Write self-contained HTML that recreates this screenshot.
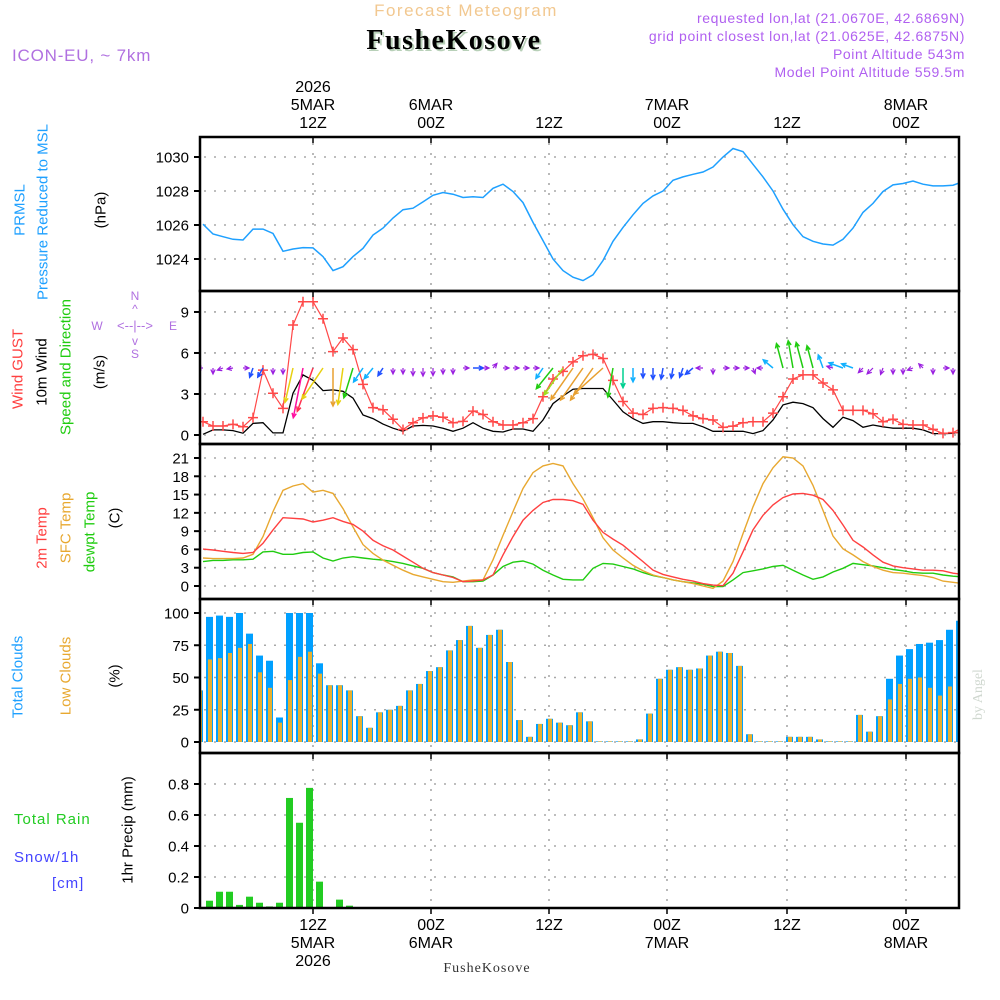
<!DOCTYPE html>
<html><head><meta charset="utf-8">
<style>
html,body{margin:0;padding:0;background:#fff;}
svg{display:block;font-family:"Liberation Sans",sans-serif;}
</style></head>
<body>
<svg id="chart" width="1000" height="1000" viewBox="0 0 1000 1000" xmlns="http://www.w3.org/2000/svg">
<rect x="0" y="0" width="1000" height="1000" fill="#fff"/>
<text x="466" y="16" font-size="17" fill="#f2c890" text-anchor="middle" letter-spacing="1.5">Forecast Meteogram</text>
<text x="456" y="51" font-size="28" font-weight="bold" font-family="Liberation Serif, serif" fill="#b8d0b8" text-anchor="middle" letter-spacing="1.5">FusheKosove</text>
<text x="454" y="49" font-size="28" font-weight="bold" font-family="Liberation Serif, serif" fill="#000" text-anchor="middle" letter-spacing="1.5">FusheKosove</text>
<g font-size="14" fill="#b060f0" text-anchor="end" letter-spacing="0.6">
<text x="965" y="23">requested lon,lat (21.0670E, 42.6869N)</text>
<text x="965" y="41">grid point closest lon,lat (21.0625E, 42.6875N)</text>
<text x="965" y="59">Point Altitude 543m</text>
<text x="965" y="77">Model Point Altitude 559.5m</text>
</g>
<text x="12" y="61" font-size="17" fill="#b070e0" letter-spacing="0.8">ICON-EU, ~ 7km</text>
<text transform="translate(982,720) rotate(-90)" font-size="14" fill="#d0d8d0" font-family="Liberation Serif, serif">by Angel</text>
<g id="grids"></g>
<g id="marks"></g>
<g id="frames"></g>
<g id="labels"></g>
</svg>
<script>
// ---- data (hourly from 00Z 5MAR) ----
const pressure = [1026.05,1025.47,1025.31,1025.16,1025.12,1025.76,1025.76,1025.5,1024.45,1024.59,1024.67,1024.65,1024.14,1023.32,1023.55,1024.14,1024.63,1025.41,1025.82,1026.41,1026.9,1026.99,1027.36,1027.75,1027.91,1027.81,1027.62,1027.66,1027.62,1028.16,1028.4,1027.97,1027.32,1026.15,1025.08,1024.0,1023.32,1022.93,1022.73,1023.07,1023.91,1025.04,1025.86,1026.6,1027.27,1027.71,1028.0,1028.63,1028.83,1028.98,1029.12,1029.41,1030.0,1030.5,1030.31,1029.57,1028.83,1028.0,1026.93,1026.02,1025.31,1025.04,1024.88,1024.82,1025.16,1025.82,1026.74,1027.27,1027.97,1028.36,1028.44,1028.59,1028.4,1028.3,1028.3,1028.34,1028.55];
const gust = [0.97,0.66,0.66,0.78,0.6,1.27,4.75,3.05,1.95,8.05,9.75,9.75,8.5,6.1,7.1,6.25,3.7,2.0,1.85,1.15,0.4,0.9,1.25,1.4,1.3,0.9,1.0,1.75,1.5,0.97,0.73,0.73,0.9,1.2,2.8,4.1,4.65,5.35,5.8,5.9,5.6,4.0,2.45,1.6,1.5,1.95,2.0,1.95,1.8,1.4,1.2,1.1,0.56,0.65,0.9,0.97,0.97,1.6,2.8,4.1,4.4,4.4,3.8,3.3,1.8,1.8,1.8,1.55,0.97,1.15,0.78,0.73,0.73,0.41,0.12,0.17,0.56];
const windSpeed = [0.05,0.37,0.37,0.32,0.13,0.85,0.9,0.15,0.15,3.05,4.4,4.0,3.25,3.3,3.2,2.7,1.46,1.2,0.8,0.5,0.27,0.66,0.7,0.66,0.5,0.27,0.5,0.9,0.5,0.27,0.22,0.44,0.44,0.27,1.1,2.3,2.85,3.35,3.4,3.4,3.4,2.56,1.7,1.2,0.85,0.97,0.97,0.9,0.85,0.85,0.6,0.27,0.27,0.27,0.27,0.1,0.32,1.1,2.2,2.4,2.3,2.0,1.2,0.56,1.3,1.05,0.56,0.73,0.6,0.5,0.5,0.5,0.37,0.1,0.1,0.12,0.27];
const windDir = [270,180,250,260,90,200,210,180,180,193,191,200,214,180,188,197,214,219,213,180,180,180,180,180,180,180,90,90,90,40,90,90,90,90,214,219,215,215,215,215,228,190,180,180,180,180,190,190,200,230,270,180,90,90,90,160,270,310,345,350,345,345,340,285,290,290,225,225,200,180,180,250,315,180,90,180,180];
const temp2m = [6.06,5.9,5.7,5.5,5.35,5.5,7.0,9.2,11.2,11.1,11.0,10.5,10.8,11.2,10.6,10.1,9.0,7.5,6.6,5.9,4.9,3.9,2.9,2.2,1.8,1.4,0.7,0.8,1.0,1.8,5.1,8.1,10.8,12.4,13.7,14.2,14.2,14.0,13.4,10.8,8.8,7.7,6.7,5.35,4.0,2.6,1.9,1.5,1.1,0.8,0.4,0.15,0.05,2.1,5.6,9.2,11.6,13.3,14.5,15.1,15.2,14.9,14.2,12.4,10.0,7.5,6.4,5.1,3.9,3.3,3.0,2.8,2.6,2.6,2.5,2.1,1.9];
const tempSfc = [4.6,4.5,4.5,4.5,4.6,5.2,8.1,12.2,15.7,16.4,16.8,15.4,15.7,15.2,12.7,9.7,6.8,5.35,4.25,3.4,2.6,1.9,1.5,1.1,0.7,0.6,0.8,1.0,1.0,4.3,8.3,12.2,16.0,18.6,19.7,20.1,19.7,16.8,14.3,11.2,7.9,5.9,4.6,3.4,2.5,1.8,1.4,1.0,0.7,0.4,0.0,-0.4,0.8,4.0,8.6,13.0,16.8,19.4,21.2,21.0,19.7,16.5,12.4,8.2,6.1,5.1,4.0,3.2,2.6,2.2,2.1,1.9,1.7,1.4,0.8,0.6,0.4];
const tempDew = [4.0,4.2,4.2,4.3,4.3,4.4,5.6,5.7,5.2,5.2,5.5,5.6,4.6,4.1,4.6,4.8,4.6,4.4,4.25,4.0,3.7,3.3,2.9,2.2,1.8,1.5,0.7,0.7,0.8,1.8,3.2,3.9,4.1,3.6,2.6,1.8,1.1,1.0,1.0,2.9,3.7,3.6,3.2,2.8,2.2,1.7,1.4,1.0,0.7,0.5,0.3,-0.1,-0.1,1.0,2.2,2.5,2.8,3.2,3.4,2.6,1.8,1.1,1.5,2.3,2.9,3.7,3.5,3.3,3.0,2.7,2.5,2.2,2.1,2.1,1.8,1.6,1.5];
const cloudTotal = [40,97,98,97,100,84,67,63,19,100,100,100,61,44,44,40,20,11,23,25,28,40,45,55,58,71,79,90,73,83,87,62,17,4,14,18,15,13,23,16,0.5,0.5,0.5,0.5,2,22,49,56,58,56,57,67,70,69,59,6,0.5,0.5,0.5,4,4,4,2,0.5,0.5,0.5,21,8,20,49,67,72,76,77,79,87,94];
const cloudLow = [40,64,65,69,73,76,54,42,15,48,66,70,53,44,44,40,20,11,23,25,28,40,45,55,58,71,79,90,73,83,87,62,17,4,14,18,15,13,23,16,0.5,0.5,0.5,0.5,2,22,49,56,58,56,57,67,70,69,59,6,0.5,0.5,0.5,4,4,4,2,0.5,0.5,0.5,21,8,20,33,45,49,50,42,36,43,51];
const precip = [0,0.047,0.105,0.105,0.02,0.073,0.034,0.01,0.034,0.71,0.55,0.775,0.17,0,0.054,0.015,0,0,0,0,0,0,0,0,0,0,0,0,0,0,0,0,0,0,0,0,0,0,0,0,0,0,0,0,0,0,0,0,0,0,0,0,0,0,0,0,0,0,0,0,0,0,0,0,0,0,0,0,0,0,0,0,0,0,0,0,0];
const pressTicks = [1024,1026,1028,1030];
const windTicks = [0,3,6,9];
const tempTicks = [0,3,6,9,12,15,18,21];
const cloudTicks = [0,25,50,75,100];
const precipTicks = [0,0.2,0.4,0.6,0.8];
const timeX = [313,431,549,667,787,906];
const topLabels = [["2026","5MAR","12Z"],["6MAR","00Z"],["12Z"],["7MAR","00Z"],["12Z"],["8MAR","00Z"]];
const botLabels = [["12Z","5MAR","2026"],["00Z","6MAR"],["12Z"],["00Z","7MAR"],["12Z"],["00Z","8MAR"]];

// ---- axes ----
const X0 = 200, X1 = 959;
const xL = h => 203 + 10*h;
const xB = h => 196 + 10*h;
const yP = p => 157 + (1030-p)*17;
const yW = v => 435 - v*13.67;
const yT = t => 586 - t*6.095;
const yC = c => 742 - c*1.29;
const yR = p => 908 - p*155;
const panels = [
 {name:'pressure', top:137, bot:291, ticks:pressTicks, f:yP, fmt:v=>String(v)},
 {name:'wind', top:291, bot:444, ticks:windTicks, f:yW, fmt:v=>String(v)},
 {name:'temperature', top:444, bot:599, ticks:tempTicks, f:yT, fmt:v=>String(v)},
 {name:'clouds', top:599, bot:753, ticks:cloudTicks, f:yC, fmt:v=>String(v)},
 {name:'precip', top:753, bot:908, ticks:precipTicks, f:yR, fmt:v=>v===0?'0':v.toFixed(1)}
];
const NS = 'http://www.w3.org/2000/svg';
function mk(tag, attrs, parent){
  const e = document.createElementNS(NS, tag);
  for (const k in attrs) e.setAttribute(k, attrs[k]);
  parent.appendChild(e); return e;
}
const svg = document.getElementById('chart');
const grids = document.getElementById('grids');
const marks = document.getElementById('marks');
const frames = document.getElementById('frames');
const labels = document.getElementById('labels');
const defs = mk('defs', {}, svg);

panels.forEach((p, i) => {
  const cp = mk('clipPath', {id:'clip'+i}, defs);
  mk('rect', {x:X0, y:p.top, width:X1-X0, height:p.bot-p.top}, cp);
  p.ticks.forEach(v => {
    const y = p.f(v);
    const g = mk('line', {x1:X0+4, x2:X1, y1:y, y2:y, stroke:'#a8a8a8', 'stroke-width':1.6, 'stroke-dasharray':'2,8'}, grids);
    
    
    const tk = mk('line', {x1:X0-6, x2:X0, y1:y, y2:y, stroke:'#000', 'stroke-width':2}, frames);
    
    
    const t = mk('text', {x:189, y:y+5.5, 'font-size':15, 'text-anchor':'end', fill:'#000'}, labels);
    t.textContent = p.fmt(v);
    
    
  });
  timeX.forEach(x => {
    const g = mk('line', {x1:x, x2:x, y1:p.top+6, y2:p.bot, stroke:'#a8a8a8', 'stroke-width':1.6, 'stroke-dasharray':'2,8'}, grids);
    
    
    const tk = mk('line', {x1:x, x2:x, y1:p.top, y2:p.top+6, stroke:'#000', 'stroke-width':1.5}, frames);
    
    
  });
  const fr = mk('rect', {x:X0, y:p.top, width:X1-X0, height:p.bot-p.top, fill:'none', stroke:'#000', 'stroke-width':2.5}, frames);
  
  
});
timeX.forEach(x => {
  const tk = mk('line', {x1:x, x2:x, y1:908, y2:914, stroke:'#000', 'stroke-width':1.5}, frames);
  
  
});

function clipG(i, name){
  const g = mk('g', {'clip-path':'url(#clip'+i+')'}, marks);
  
  
  return g;
}
function linePath(arr, fy){
  return arr.map((v,h)=>(h?'L':'M')+xL(h).toFixed(1)+','+fy(v).toFixed(1)).join(' ');
}

// pressure
const gP = clipG(0, 'pressure-series');
const lp = mk('path', {d:linePath(pressure, yP), fill:'none', stroke:'#1ea0ff', 'stroke-width':1.5}, gP);



// wind
const gW = clipG(1, 'wind-series');
const lw = mk('path', {d:linePath(windSpeed, yW), fill:'none', stroke:'#000', 'stroke-width':1.3}, gW);


const lg = mk('path', {d:linePath(gust, yW), fill:'none', stroke:'#ff4848', 'stroke-width':1.2}, gW);


gust.forEach((v,h) => {
  const x = xL(h), y = yW(v);
  const m = mk('path', {d:`M${x-5},${y}H${x+5}M${x},${y-5}V${y+5}`, stroke:'#ff4848', 'stroke-width':1.5}, gW);
  
  
});
function arrowColor(s){
  if (s < 0.75) return '#9a1ee0';
  if (s < 1.0) return '#2050ff';
  if (s < 1.6) return '#10b0ff';
  if (s < 2.0) return '#00d090';
  if (s < 2.8) return '#20cc10';
  if (s < 3.0) return '#a0e020';
  if (s < 3.3) return '#e8d010';
  if (s < 3.6) return '#e8a030';
  if (s < 4.2) return '#ff3050';
  return '#ff10a0';
}
windDir.forEach((d,h) => {
  const s = windSpeed[h];
  const len = Math.max(6, s*11.5);
  const a = d*Math.PI/180;
  const x0 = xL(h), y0 = 368;
  const x1 = x0 + Math.sin(a)*len, y1 = y0 - Math.cos(a)*len;
  const hl = 5, sp = 0.45;
  const hx1 = x1 - hl*Math.sin(a-sp), hy1 = y1 + hl*Math.cos(a-sp);
  const hx2 = x1 - hl*Math.sin(a+sp), hy2 = y1 + hl*Math.cos(a+sp);
  const ar = mk('path', {d:`M${x0.toFixed(1)},${y0}L${x1.toFixed(1)},${y1.toFixed(1)}M${hx1.toFixed(1)},${hy1.toFixed(1)}L${x1.toFixed(1)},${y1.toFixed(1)}L${hx2.toFixed(1)},${hy2.toFixed(1)}`, fill:'none', stroke:arrowColor(s), 'stroke-width':s<0.75?1.2:1.5}, gW);
  
  
});

// temperature
const gT = clipG(2, 'temperature-series');
[[tempDew,'#20cc10','dewpoint-line'],[tempSfc,'#e8a830','sfc-temp-line'],[temp2m,'#ff4040','temp-2m-line']].forEach(([arr,c,n]) => {
  const l = mk('path', {d:linePath(arr, yT), fill:'none', stroke:c, 'stroke-width':1.4}, gT);
  
  
});

// clouds
const gC = clipG(3, 'cloud-series');
cloudTotal.forEach((v,h) => {
  const b = mk('rect', {x:xB(h), y:yC(v), width:7, height:742-yC(v), fill:'#00a0ff'}, gC);
  
  
});
cloudLow.forEach((v,h) => {
  const b = mk('rect', {x:xB(h)+2, y:yC(v), width:4, height:742-yC(v), fill:'#e8b030'}, gC);
  
  
});

// precip
const gR = clipG(4, 'precip-series');
precip.forEach((v,h) => {
  if (v <= 0) return;
  const b = mk('rect', {x:xB(h), y:yR(v), width:7, height:908-yR(v), fill:'#22cc22'}, gR);
  
  
});

// time labels
timeX.forEach((x,i) => {
  const tl = topLabels[i];
  tl.forEach((s,j) => {
    const t = mk('text', {x:x, y:128-(tl.length-1-j)*18, 'font-size':16, 'text-anchor':'middle', fill:'#000'}, labels);
    t.textContent = s;
    
    
  });
  botLabels[i].forEach((s,j) => {
    const t = mk('text', {x:x, y:930+j*18, 'font-size':16, 'text-anchor':'middle', fill:'#000'}, labels);
    t.textContent = s;
    
    
  });
});
</script>
<div style="position:absolute;left:0;top:0;width:1000px;height:1000px;pointer-events:none">
<svg width="1000" height="1000" style="font-family:'Liberation Sans',sans-serif">
<g font-size="15" text-anchor="middle" dominant-baseline="central">
<text transform="translate(20,210) rotate(-90)" fill="#1ea0ff">PRMSL</text>
<text transform="translate(43,212) rotate(-90)" fill="#1ea0ff">Pressure Reduced to MSL</text>
<text transform="translate(101,210) rotate(-90)" fill="#000">(hPa)</text>
<text transform="translate(18,369) rotate(-90)" fill="#ff4040">Wind GUST</text>
<text transform="translate(42,372) rotate(-90)" fill="#000">10m Wind</text>
<text transform="translate(66,367) rotate(-90)" fill="#20cc10">Speed and Direction</text>
<text transform="translate(100,372) rotate(-90)" fill="#000">(m/s)</text>
<text transform="translate(42,538) rotate(-90)" fill="#ff4040">2m Temp</text>
<text transform="translate(66,528) rotate(-90)" fill="#e8a830">SFC Temp</text>
<text transform="translate(90,532) rotate(-90)" fill="#20cc10">dewpt Temp</text>
<text transform="translate(115,518) rotate(-90)" fill="#000">(C)</text>
<text transform="translate(18,677) rotate(-90)" fill="#1ea0ff">Total Clouds</text>
<text transform="translate(66,676) rotate(-90)" fill="#e8a830">Low Clouds</text>
<text transform="translate(115,676) rotate(-90)" fill="#000">(%)</text>
<text transform="translate(128,830) rotate(-90)" fill="#000">1hr Precip (mm)</text>
</g>
<g font-size="15">
<text x="14" y="824" fill="#22cc22" letter-spacing="1">Total  Rain</text>
<text x="14" y="862" fill="#4444ff" letter-spacing="1">Snow/1h</text>
<text x="52" y="888" fill="#4444ff" letter-spacing="1">[cm]</text>
</g>
<g fill="#b070e0" font-size="12" text-anchor="middle">
<text x="135" y="300">N</text>
<text x="135" y="313">^</text>
<text x="135" y="330" font-size="13">&lt;--|--&gt;</text>
<text x="135" y="345">v</text>
<text x="135" y="358">S</text>
<text x="97" y="330">W</text>
<text x="173" y="330">E</text>
</g>
<text x="487" y="972" font-size="14" font-family="Liberation Serif, serif" fill="#333" text-anchor="middle" letter-spacing="1">FusheKosove</text>
</svg>
</div>
</body></html>
